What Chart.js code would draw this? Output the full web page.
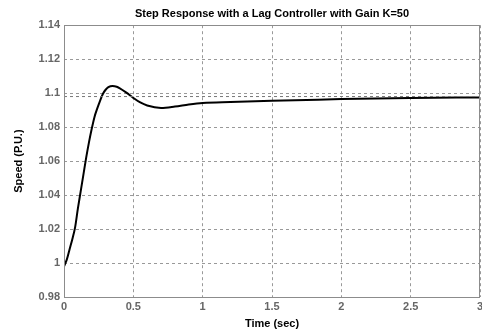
<!DOCTYPE html>
<html>
<head>
<meta charset="utf-8">
<script src="https://cdn.jsdelivr.net/npm/chart.js@4/dist/chart.umd.min.js"></script>
<style>
  html, body { margin: 0; padding: 0; background: #fff; }
  #wrap { width: 482px; height: 334px; }
</style>
</head>
<body>
<div id="wrap"><canvas id="chart" width="482" height="334"></canvas></div>
<script>
// data (time in sec, speed in P.U.)
const timeSec = [0, 0.02, 0.04, 0.06, 0.08, 0.1, 0.12, 0.14, 0.16, 0.18, 0.2, 0.22, 0.24, 0.26, 0.28, 0.3,
    0.32, 0.35, 0.38, 0.4, 0.45, 0.5, 0.55, 0.6, 0.7, 0.8, 0.9, 1.0, 1.2, 1.5, 1.75, 2, 2.5, 3];
const speedPU = [0.998, 1.002, 1.008, 1.014, 1.021, 1.032, 1.042, 1.052, 1.062, 1.071, 1.079, 1.086, 1.091, 1.0955, 1.0995, 1.102,
    1.1035, 1.1042, 1.1038, 1.103, 1.1003, 1.0972, 1.0945, 1.0927, 1.0913, 1.0921, 1.0933, 1.0942, 1.0948, 1.0955, 1.096, 1.0965, 1.0971, 1.0975];
const refTime = [0, 3];
const refLevel = [1.098, 1.098];
const xTicks = [0, 0.5, 1, 1.5, 2, 2.5, 3];
const yTicks = [0.98, 1, 1.02, 1.04, 1.06, 1.08, 1.1, 1.12, 1.14];

const FONT = 'Liberation Sans, Arial, sans-serif';

const boxPlugin = {
    id: 'box',
    afterDraw(chart) {
        const { ctx, chartArea: a } = chart;
        ctx.save();
        ctx.strokeStyle = '#8c8c8c';
        ctx.lineWidth = 1;
        ctx.strokeRect(Math.round(a.left) + 0.5, Math.round(a.top) + 0.5,
            Math.round(a.right - a.left) - 1, Math.round(a.bottom - a.top));
        ctx.restore();
    }
};

new Chart(document.getElementById('chart'), {
    type: 'line',
    data: {
        datasets: [
            {
                data: refTime.map((t, i) => ({ x: t, y: refLevel[i] })),
                borderColor: '#777',
                borderWidth: 1,
                borderDash: [3, 3],
                pointRadius: 0
            },
            {
                data: timeSec.map((t, i) => ({ x: t, y: speedPU[i] })),
                borderColor: '#000',
                borderWidth: 2,
                pointRadius: 0,
                cubicInterpolationMode: 'monotone'
            }
        ]
    },
    plugins: [boxPlugin],
    options: {
        animation: false,
        responsive: false,
        layout: { padding: { left: 0, right: 2, top: 0, bottom: 0 } },
        plugins: {
            legend: { display: false },
            tooltip: { enabled: false },
            title: {
                display: true,
                text: 'Step Response with a Lag Controller with Gain K=50',
                color: '#000',
                fullSize: false,
                font: { family: FONT, size: 11, weight: 'bold' },
                padding: { top: 7, bottom: 5 }
            }
        },
        scales: {
            x: {
                type: 'linear',
                min: 0,
                max: 3,
                afterBuildTicks: s => { s.ticks = xTicks.map(v => ({ value: v })); },
                afterFit: s => { s.height = 37; s.paddingRight = 0; s.paddingLeft = 0; },
                ticks: {
                    color: '#666',
                    font: { family: FONT, size: 11, weight: 'bold' },
                    padding: 3,
                    maxRotation: 0,
                    callback: v => String(v)
                },
                grid: { color: '#999', drawTicks: false },
                border: { display: false, dash: [3, 3] },
                title: {
                    display: true,
                    text: 'Time (sec)',
                    color: '#000',
                    font: { family: FONT, size: 11, weight: 'bold' },
                    padding: { top: 0, bottom: 3 }
                }
            },
            y: {
                min: 0.98,
                max: 1.14,
                afterBuildTicks: s => { s.ticks = yTicks.map(v => ({ value: v })); },
                afterFit: s => { s.width = 64; },
                ticks: {
                    color: '#666',
                    font: { family: FONT, size: 11, weight: 'bold' },
                    padding: 4,
                    callback: v => String(parseFloat(v.toFixed(2)))
                },
                grid: { color: '#999', drawTicks: false },
                border: { display: false, dash: [3, 3] },
                title: {
                    display: true,
                    text: 'Speed (P.U.)',
                    color: '#000',
                    font: { family: FONT, size: 11, weight: 'bold' },
                    padding: { top: 12, bottom: 0 }
                }
            }
        }
    }
});
</script>
</body>
</html>
